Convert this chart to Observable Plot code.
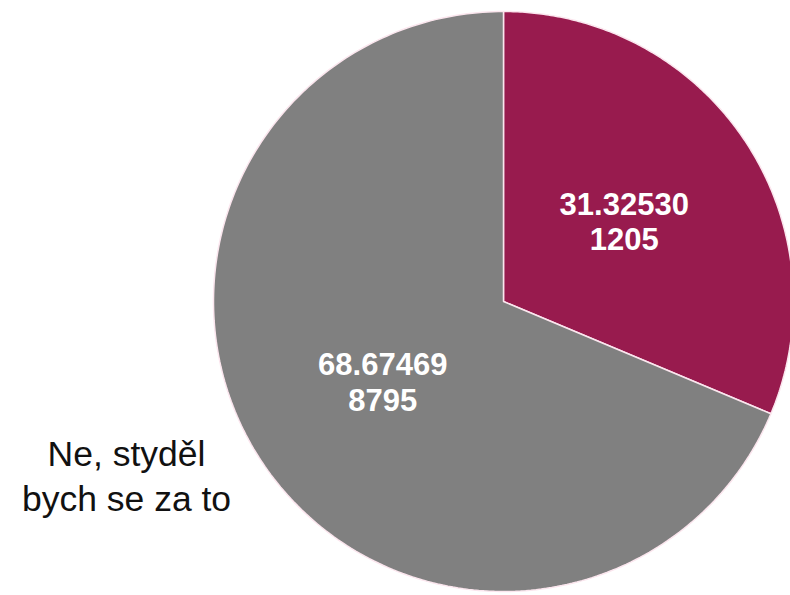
<!DOCTYPE html>
<html>
<head>
<meta charset="utf-8">
<script src="https://cdn.jsdelivr.net/npm/d3@7"></script>
<script src="https://cdn.jsdelivr.net/npm/@observablehq/plot@0.6"></script>
<style>
  html, body { margin: 0; padding: 0; background: #fff; }
  #chart svg { display: block; overflow: visible; }
</style>
</head>
<body>
<div id="chart"></div>
<script>
// Data
const categories = ["Ano", "Ne, styděl bych se za to"];
const percents = [31.32530, 68.67469];
const counts = [1205, 8795];
const colors = ["#981b4e", "#808080"];
const shownOuterLabels = ["Ne, styděl bych se za to"];

// Slice geometry in data units (unit circle), derived from the percents
const pie = d3.pie().sort(null).value(d => d.pct)(
  categories.map((c, i) => ({cat: c, pct: percents[i], n: counts[i], color: colors[i]}))
);
const outline = [];
pie.forEach(s => {
  outline.push({cat: s.data.cat, x: 0, y: 0});
  const steps = 240;
  for (let k = 0; k <= steps; k++) {
    const a = s.startAngle + (s.endAngle - s.startAngle) * k / steps;
    outline.push({cat: s.data.cat, x: Math.sin(a), y: Math.cos(a)});
  }
});
const centroids = pie.map(s => {
  const a = (s.startAngle + s.endAngle) / 2;
  return {
    cat: s.data.cat,
    x: 0.5 * Math.sin(a),
    y: 0.5 * Math.cos(a),
    label: (Math.floor(s.data.pct * 1e5) / 1e5).toFixed(5) + "\n" + s.data.n
  };
});

const chart = Plot.plot({
  width: 790,
  height: 595,
  margin: 0,
  style: {background: "transparent", fontFamily: "Liberation Sans, Arial, sans-serif"},
  x: {domain: [-1, 1], range: [213, 793], axis: null},
  y: {domain: [-1, 1], range: [591, 11], axis: null},
  color: {domain: categories, range: colors},
  marks: [
    Plot.line(outline, {
      x: "x", y: "y", z: "cat",
      fill: "cat",
      stroke: "#fbe6ee",
      strokeWidth: 1.5,
      strokeLinejoin: "miter",
      curve: "linear-closed"
    }),
    Plot.text(centroids, {
      x: "x", y: "y", text: "label",
      fill: "white",
      fontSize: 31,
      fontWeight: "bold",
      lineHeight: 1.15,
      textAnchor: "middle",
      lineAnchor: "middle"
    }),
    Plot.text(shownOuterLabels.map(t => t.replace("styděl ", "styděl\n")), {
      text: d => d,
      frameAnchor: "top-left",
      dx: 126,
      dy: 474,
      fill: "#111",
      fontSize: 35.5,
      lineHeight: 1.27,
      textAnchor: "middle",
      lineAnchor: "middle"
    })
  ]
});
document.getElementById("chart").appendChild(chart);
</script>
</body>
</html>
